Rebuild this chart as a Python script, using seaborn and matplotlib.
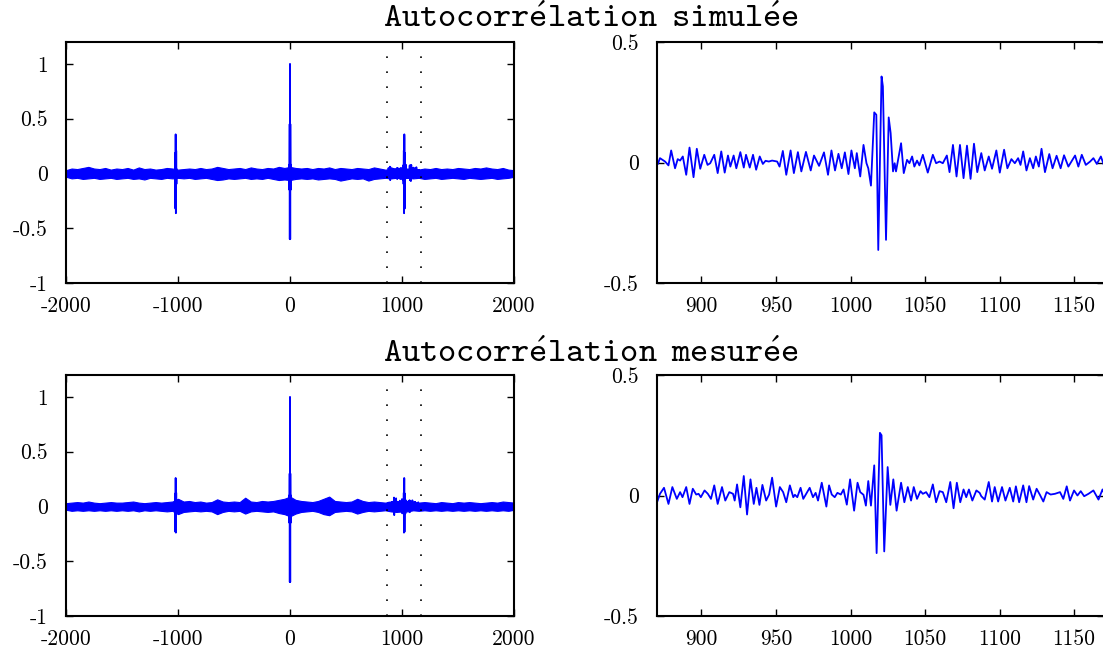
import numpy as np
import pandas as pd
import matplotlib
matplotlib.use("Agg")
import matplotlib.pyplot as plt
import seaborn as sns

# ---------------- data ----------------
titles = ["Autocorrélation simulée", "Autocorrélation mesurée"]

# overview panels: envelope of the noise band, every 50 lags
env_lag = list(range(-2000, 2001, 50))
sim_hi = [0.03, 0.045, 0.04, 0.05, 0.06, 0.045, 0.04, 0.05, 0.035, 0.045,
          0.04, 0.05, 0.035, 0.055, 0.04, 0.045, 0.035, 0.04, 0.05, 0.045,
          0.035, 0.04, 0.045, 0.04, 0.05, 0.04, 0.045, 0.06, 0.05, 0.04,
          0.045, 0.05, 0.04, 0.055, 0.045, 0.04, 0.05, 0.045, 0.06, 0.05,
          0.06,
          0.05, 0.045, 0.05, 0.04, 0.05, 0.045, 0.055, 0.04, 0.05, 0.045,
          0.04, 0.05, 0.045, 0.04, 0.055, 0.045, 0.035, 0.04, 0.05, 0.04,
          0.045, 0.04, 0.035, 0.045, 0.04, 0.05, 0.04, 0.045, 0.04, 0.05,
          0.045, 0.04, 0.05, 0.045, 0.055, 0.045, 0.04, 0.05, 0.035, 0.03]
sim_lo = [-0.03, -0.045, -0.04, -0.05, -0.045, -0.04, -0.05, -0.045, -0.04, -0.05,
          -0.045, -0.04, -0.05, -0.045, -0.055, -0.04, -0.045, -0.05, -0.04, -0.045,
          -0.04, -0.045, -0.04, -0.05, -0.045, -0.04, -0.05, -0.06, -0.055, -0.045,
          -0.05, -0.045, -0.04, -0.05, -0.045, -0.05, -0.04, -0.05, -0.06, -0.055,
          -0.06,
          -0.05, -0.045, -0.05, -0.045, -0.055, -0.05, -0.045, -0.05, -0.065, -0.055,
          -0.045, -0.05, -0.045, -0.065, -0.05, -0.045, -0.04, -0.045, -0.04, -0.045,
          -0.04, -0.045, -0.04, -0.05, -0.045, -0.04, -0.05, -0.045, -0.04, -0.045,
          -0.05, -0.04, -0.045, -0.05, -0.045, -0.04, -0.05, -0.045, -0.04, -0.03]
mes_hi = [0.03, 0.035, 0.04, 0.035, 0.045, 0.035, 0.03, 0.035, 0.04, 0.035,
          0.035, 0.04, 0.045, 0.035, 0.03, 0.035, 0.04, 0.035, 0.04, 0.045,
          0.07, 0.045, 0.05, 0.04, 0.045, 0.035, 0.04, 0.065, 0.045, 0.04,
          0.045, 0.04, 0.08, 0.045, 0.04, 0.05, 0.045, 0.05, 0.06, 0.07,
          0.09,
          0.06, 0.05, 0.045, 0.04, 0.05, 0.07, 0.09, 0.05, 0.045, 0.04,
          0.045, 0.07, 0.05, 0.04, 0.045, 0.04, 0.035, 0.045, 0.05, 0.045,
          0.05, 0.04, 0.035, 0.04, 0.035, 0.03, 0.04, 0.035, 0.03, 0.04,
          0.035, 0.04, 0.035, 0.03, 0.035, 0.04, 0.035, 0.045, 0.04, 0.035]
mes_lo = [-0.03, -0.04, -0.035, -0.04, -0.035, -0.04, -0.035, -0.04, -0.035, -0.04,
          -0.035, -0.04, -0.035, -0.045, -0.035, -0.04, -0.035, -0.04, -0.045, -0.04,
          -0.07, -0.05, -0.045, -0.04, -0.045, -0.04, -0.045, -0.07, -0.05, -0.04,
          -0.045, -0.04, -0.065, -0.045, -0.04, -0.045, -0.05, -0.045, -0.06, -0.07,
          -0.09,
          -0.065, -0.05, -0.045, -0.04, -0.05, -0.07, -0.08, -0.05, -0.045, -0.04,
          -0.045, -0.065, -0.05, -0.04, -0.045, -0.04, -0.035, -0.045, -0.05, -0.045,
          -0.045, -0.035, -0.04, -0.035, -0.04, -0.035, -0.04, -0.035, -0.04, -0.035,
          -0.04, -0.035, -0.04, -0.035, -0.04, -0.035, -0.04, -0.035, -0.04, -0.03]

# isolated echoes / central peak
spike_neg_lag = [-1027, -1025, -1023, -1021, -1019, -1016, -1014, -1012]
sim_spike_neg = [0.05, 0.187, -0.321, 0.357, -0.363, 0.208, -0.096, 0.04]
mes_spike_neg = [0.06, 0.118, -0.232, 0.26, -0.239, 0.125, -0.042, 0.06]
center_lag = [-8, -5, -3, -2, 0, 2, 3, 5, 8]
sim_center = [0.08, -0.15, 0.45, -0.6, 1.0, -0.6, 0.45, -0.15, 0.08]
mes_center = [0.1, -0.15, 0.3, -0.69, 1.0, -0.69, 0.3, -0.15, 0.1]

# zoom window 870..1170 (local extrema)
sim_zoom_lag = [870.7, 872.2, 875.6, 877.9, 879.7, 882.3, 884.1, 885.7, 887.5, 889.8,
                892.0, 894.7, 896.9, 899.2, 901.9, 904.1, 905.9, 908.6, 910.9, 913.3,
                915.6, 917.8, 919.4, 921.6, 923.4, 926.1, 928.4, 929.9, 932.4, 934.6,
                936.7, 939.1, 941.2, 943.0, 945.2, 947.4, 950.8, 952.4, 954.6, 956.9,
                959.8, 962.0, 964.7, 967.0, 970.1, 973.3, 975.5, 978.9, 982.2, 984.9,
                987.2, 989.6, 991.9, 994.1, 996.2, 998.6, 1000.6, 1002.9, 1004.2, 1006.5,
                1008.7, 1010.7, 1011.9, 1013.7, 1015.9, 1017.3, 1018.6, 1020.8, 1021.7, 1023.8,
                1025.6, 1026.9, 1028.5, 1029.6, 1030.5, 1033.9, 1035.7, 1037.9, 1039.5, 1041.3,
                1042.8, 1044.6, 1046.2, 1048.5, 1051.8, 1055.2, 1057.4, 1059.7, 1061.9, 1064.6,
                1066.4, 1068.7, 1071.1, 1073.4, 1075.8, 1078.1, 1080.5, 1082.8, 1085.0, 1087.7,
                1090.0, 1092.7, 1094.9, 1097.8, 1100.1, 1103.0, 1105.2, 1107.9, 1110.2, 1112.4,
                1114.0, 1115.8, 1118.0, 1120.3, 1122.5, 1124.3, 1126.3, 1128.1, 1130.4, 1133.3,
                1135.5, 1138.2, 1140.9, 1143.2, 1146.1, 1150.6, 1152.8, 1155.1, 1157.8, 1160.7,
                1162.9, 1165.2, 1167.9, 1170.3]
sim_zoom_val = [-0.007, 0.018, 0.004, -0.012, 0.050, -0.024, 0.014, 0.008, 0.025, -0.051,
                0.062, -0.061, 0.057, -0.026, 0.032, -0.010, -0.003, 0.032, -0.044, 0.046,
                -0.042, 0.029, -0.017, 0.029, -0.024, 0.043, -0.021, 0.032, -0.021, 0.032,
                -0.030, 0.025, -0.006, 0.007, 0.004, 0.008, 0.004, -0.017, 0.048, -0.051,
                0.050, -0.044, 0.043, -0.037, 0.044, -0.033, 0.029, -0.014, 0.042, -0.051,
                0.050, -0.033, 0.036, -0.024, 0.042, -0.048, 0.050, -0.024, 0.039, -0.058,
                0.073, -0.003, -0.024, -0.096, 0.208, 0.198, -0.363, 0.357, 0.316, -0.321,
                0.187, 0.122, -0.037, -0.003, -0.037, 0.080, -0.044, 0.011, -0.003, 0.025,
                -0.017, 0.008, -0.012, 0.032, -0.042, 0.032, -0.003, 0.004, -0.003, 0.029,
                -0.040, 0.073, -0.058, 0.073, -0.065, 0.070, -0.068, 0.078, -0.040, 0.039,
                -0.033, 0.025, -0.026, 0.050, -0.042, 0.053, -0.024, 0.014, -0.003, 0.018,
                -0.010, 0.046, -0.033, 0.018, -0.024, 0.025, -0.017, 0.057, -0.040, 0.035,
                -0.024, 0.028, -0.024, 0.030, -0.017, 0.029, -0.017, 0.032, -0.010, 0.004,
                0.018, -0.006, 0.025, -0.017]

mes_zoom_lag = [870.4, 872.2, 874.9, 877.9, 880.5, 883.5, 885.7, 887.3, 889.8, 892.0,
                894.2, 896.5, 898.1, 899.6, 902.1, 904.3, 906.4, 908.6, 910.9, 913.8,
                916.0, 918.7, 921.2, 922.3, 923.9, 926.1, 928.4, 930.6, 932.9, 935.1,
                936.9, 938.9, 940.9, 943.4, 945.4, 947.4, 950.1, 952.6, 954.8, 956.9,
                959.3, 961.6, 962.7, 964.3, 966.5, 968.3, 972.6, 974.8, 976.6, 978.2,
                980.7, 983.8, 985.6, 987.4, 989.4, 991.2, 993.5, 995.3, 997.5, 999.7,
                1002.4, 1004.7, 1006.5, 1008.7, 1010.3, 1011.9, 1013.7, 1015.9, 1017.5, 1019.7,
                1020.8, 1022.6, 1024.9, 1026.7, 1028.7, 1030.9, 1033.9, 1036.1, 1038.4, 1040.6,
                1042.4, 1044.6, 1046.9, 1048.5, 1050.7, 1052.9, 1055.2, 1057.4, 1059.7, 1061.9,
                1064.2, 1066.9, 1069.1, 1071.3, 1073.6, 1075.8, 1077.6, 1079.4, 1081.7, 1084.4,
                1086.6, 1087.7, 1090.0, 1092.7, 1094.9, 1096.7, 1099.0, 1101.6, 1103.9, 1106.8,
                1109.1, 1110.9, 1113.1, 1115.8, 1118.0, 1119.8, 1122.5, 1124.8, 1127.0, 1129.3,
                1131.5, 1134.2, 1137.1, 1140.5, 1142.7, 1145.0, 1147.2, 1149.9, 1152.2, 1154.4,
                1156.7, 1159.6, 1162.9, 1166.3, 1169.0, 1170.3]
mes_zoom_val = [-0.025, 0.007, 0.032, -0.035, 0.035, -0.014, 0.014, -0.007, 0.035, -0.035,
                0.028, 0.004, 0.007, -0.007, 0.021, 0.007, -0.014, 0.042, -0.035, 0.035,
                -0.021, 0.014, 0.007, -0.021, 0.046, -0.049, 0.081, -0.079, 0.067, -0.035,
                0.032, -0.039, 0.044, -0.021, 0.004, 0.074, -0.046, 0.035, 0.014, -0.028,
                0.042, -0.007, 0.003, -0.007, 0.032, -0.014, 0.032, -0.007, 0.011, -0.021,
                0.053, -0.046, 0.042, 0.004, -0.007, 0.011, 0.004, 0.025, -0.038, 0.067,
                -0.063, 0.053, 0.014, 0.003, -0.042, 0.060, -0.042, 0.125, -0.239, 0.260,
                0.250, -0.232, 0.118, -0.039, 0.067, -0.063, 0.053, -0.028, 0.035, -0.021,
                0.035, -0.014, 0.018, 0.007, 0.014, -0.007, 0.046, -0.028, 0.018, 0.014,
                -0.028, 0.056, -0.053, 0.053, -0.028, 0.025, -0.007, 0.025, -0.021, 0.021,
                0.011, -0.003, -0.017, 0.056, -0.025, 0.035, -0.025, 0.035, -0.021, 0.032,
                -0.025, 0.038, -0.028, 0.042, -0.028, 0.039, -0.017, 0.028, 0.003, -0.025,
                0.014, 0.004, 0.007, 0.014, -0.014, 0.038, -0.021, 0.021, 0.000, 0.018,
                -0.003, 0.007, 0.021, -0.017, 0.025, 0.007]

overview_xticks = [-2000, -1000, 0, 1000, 2000]
overview_yticks = [-1, -0.5, 0, 0.5, 1]
overview_ylabels = ["-1", "-0.5", "0", "0.5", "1"]
zoom_xticks = [900, 950, 1000, 1050, 1100, 1150]
zoom_yticks = [-0.5, 0, 0.5]
zoom_ylabels = ["-0.5", "0", "0.5"]
zoom_window = [870, 1170]

# ---------------- style ----------------
sns.set_theme(style="ticks")
plt.rcParams['font.family'] = ['cmr10', 'DejaVu Serif']
plt.rcParams['axes.unicode_minus'] = False
plt.rcParams['axes.formatter.use_mathtext'] = True
plt.rcParams['mathtext.fontset'] = 'cm'
plt.rcParams['axes.edgecolor'] = 'black'
plt.rcParams['axes.linewidth'] = 1.5

BLUE = '#0000ff'
LW = 1.3
TICKFS = 15.5

fig = plt.figure(figsize=(11.03, 6.48), dpi=100)
W, H = 1103.0, 648.0


def fpos(l, t, r, b):
    return [l / W, 1 - b / H, (r - l) / W, (b - t) / H]


def tt(text):
    # typewriter (cmtt) rendering, keeping the accented letters
    body = text.replace('é', r'\acute{e}').replace(' ', r'\enspace ')
    return r'$\mathtt{' + body + '}$'


rows = [
    dict(top=42, bot=283, title_y=18, hi=sim_hi, lo=sim_lo, sneg=sim_spike_neg,
         cen=sim_center, zl=sim_zoom_lag, zv=sim_zoom_val),
    dict(top=375, bot=616, title_y=353, hi=mes_hi, lo=mes_lo, sneg=mes_spike_neg,
         cen=mes_center, zl=mes_zoom_lag, zv=mes_zoom_val),
]


def style_axes(ax):
    for s in ax.spines.values():
        s.set_color('black')
        s.set_linewidth(1.5)
    ax.tick_params(direction='in', top=True, right=True, length=5, width=1,
                   colors='black', labelsize=TICKFS)
    ax.set_xlabel('')
    ax.set_ylabel('')


for i, r in enumerate(rows):
    # overview
    ax = fig.add_axes(fpos(66, r['top'], 514, r['bot']))
    ax.fill_between(env_lag, r['lo'], r['hi'], color=BLUE, lw=0.8, edgecolor=BLUE)
    sns.lineplot(x=spike_neg_lag, y=r['sneg'], ax=ax, color=BLUE, lw=LW,
                 estimator=None, sort=False)
    sns.lineplot(x=center_lag, y=r['cen'], ax=ax, color=BLUE, lw=LW,
                 estimator=None, sort=False)
    sns.lineplot(x=r['zl'], y=r['zv'], ax=ax, color=BLUE, lw=LW,
                 estimator=None, sort=False)
    for xv in zoom_window:
        ax.axvline(xv, color='black', lw=1.2, ls=(0, (1, 8)))
    ax.set_xlim(-2000, 2000)
    ax.set_ylim(-1, 1.2)
    ax.set_xticks(overview_xticks, labels=[str(v) for v in overview_xticks])
    ax.set_yticks(overview_yticks, labels=overview_ylabels)
    style_axes(ax)
    ax.tick_params(axis='x', pad=10)
    ax.tick_params(axis='y', pad=13)

    # zoom
    az = fig.add_axes(fpos(656.7, r['top'], 1104, r['bot']))
    sns.lineplot(x=r['zl'], y=r['zv'], ax=az, color=BLUE, lw=LW,
                 estimator=None, sort=False)
    az.set_xlim(*zoom_window)
    az.set_ylim(-0.5, 0.5)
    az.set_xticks(zoom_xticks, labels=[str(v) for v in zoom_xticks])
    az.set_yticks(zoom_yticks, labels=zoom_ylabels)
    style_axes(az)
    az.tick_params(axis='x', pad=10)
    az.tick_params(axis='y', pad=13)

    fig.text(591 / W, 1 - r['title_y'] / H, tt(titles[i]), ha='center', va='center',
             fontsize=25, color='black')

fig.savefig("out.png", dpi=100)
